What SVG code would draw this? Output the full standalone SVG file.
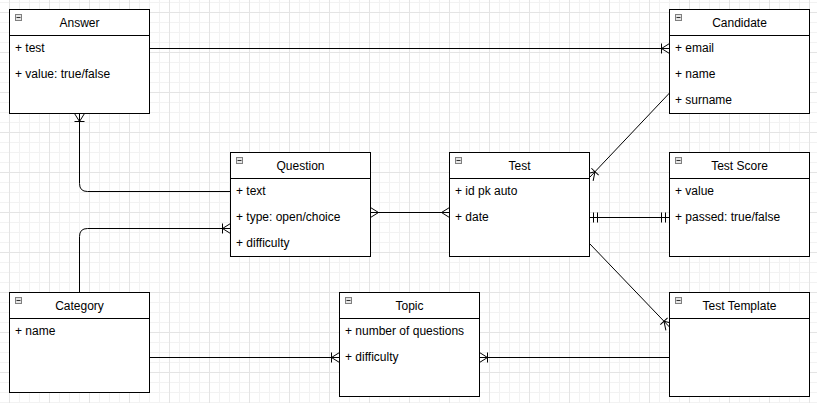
<svg xmlns="http://www.w3.org/2000/svg" width="817" height="403" viewBox="0 0 817 403">
<style>
.box{fill:#fff;stroke:#000;stroke-width:1}
.hdr{fill:none;stroke:#000;stroke-width:1}
.ico{fill:#e6e6e6;stroke:#808080;stroke-width:1}
.icm{stroke:#333;stroke-width:1}
.t{font-family:"Liberation Sans",Arial,sans-serif;font-size:12px;fill:#000}
.ttl{text-anchor:middle}
.c{fill:none;stroke:#000;stroke-width:1}
.m{fill:none;stroke:#000;stroke-width:1}
</style>
<defs>
<pattern id="grid" patternUnits="userSpaceOnUse" x="9" y="12" width="40" height="40">
<rect width="40" height="40" fill="#fff"/>
<path d="M10.5 0V40M20.5 0V40M30.5 0V40M0 10.5H40M0 20.5H40M0 30.5H40" stroke="#f2f2f2" stroke-width="1" fill="none"/>
<path d="M0.5 0V40M0 0.5H40" stroke="#e4e4e4" stroke-width="1" fill="none"/>
</pattern>
<marker id="one2many" markerUnits="userSpaceOnUse" orient="auto-start-reverse" refX="0" refY="0" markerWidth="20" markerHeight="20" viewBox="-10 -10 20 20" overflow="visible">
<path class="m" d="M-8 0L0 -5M-8 0L0 5M-8 -5L-8 5"/>
</marker>
<marker id="many" markerUnits="userSpaceOnUse" orient="auto-start-reverse" refX="0" refY="0" markerWidth="20" markerHeight="20" viewBox="-10 -10 20 20" overflow="visible">
<path class="m" d="M-8 0L0 -5M-8 0L0 5"/>
</marker>
<marker id="mandOne" markerUnits="userSpaceOnUse" orient="auto-start-reverse" refX="0" refY="0" markerWidth="20" markerHeight="20" viewBox="-10 -10 20 20" overflow="visible">
<path class="m" d="M-4 -5L-4 5M-8 -5L-8 5"/>
</marker>
</defs>
<rect width="817" height="403" fill="url(#grid)"/>

<g id="connectors">
<path class="c" d="M149.5 48.5H669.5" marker-end="url(#one2many)"/>
<path class="c" d="M230.5 191.5H87.5Q79.5 191.5 79.5 183.5V113.5" marker-end="url(#one2many)"/>
<path class="c" d="M370.5 212.5H449.5" marker-start="url(#many)" marker-end="url(#many)"/>
<path class="c" d="M79.5 292.5V236.5Q79.5 228.5 87.5 228.5H230.5" marker-end="url(#one2many)"/>
<path class="c" d="M669.5 93L589.5 177.5" marker-end="url(#one2many)"/>
<path class="c" d="M589.5 217.5H669.5" marker-start="url(#mandOne)" marker-end="url(#mandOne)"/>
<path class="c" d="M589.5 243.5L669.5 327" marker-end="url(#one2many)"/>
<path class="c" d="M149.5 357.5H339.5" marker-end="url(#one2many)"/>
<path class="c" d="M669.5 357.5H479.5" marker-end="url(#one2many)"/>
</g>

<g id="answer">
<rect class="box" x="9.5" y="9.5" width="140" height="104"/>
<path class="hdr" d="M9.5 35.5H149.5"/>
<rect class="ico" x="15.5" y="14.5" width="6" height="6"/><path class="icm" d="M16.5 17.5H20.5"/>
<text class="t ttl" x="79.5" y="27">Answer</text>
<text class="t" x="15" y="52">+ test</text>
<text class="t" x="15" y="78">+ value: true/false</text>
</g>

<g id="candidate">
<rect class="box" x="669.5" y="9.5" width="140" height="104"/>
<path class="hdr" d="M669.5 35.5H809.5"/>
<rect class="ico" x="675.5" y="14.5" width="6" height="6"/><path class="icm" d="M676.5 17.5H680.5"/>
<text class="t ttl" x="739.5" y="27">Candidate</text>
<text class="t" x="675" y="52">+ email</text>
<text class="t" x="675" y="78">+ name</text>
<text class="t" x="675" y="104">+ surname</text>
</g>

<g id="question">
<rect class="box" x="230.5" y="152.5" width="140" height="104"/>
<path class="hdr" d="M230.5 178.5H370.5"/>
<rect class="ico" x="236.5" y="157.5" width="6" height="6"/><path class="icm" d="M237.5 160.5H241.5"/>
<text class="t ttl" x="300.5" y="170">Question</text>
<text class="t" x="236" y="195">+ text</text>
<text class="t" x="236" y="221">+ type: open/choice</text>
<text class="t" x="236" y="247">+ difficulty</text>
</g>

<g id="test">
<rect class="box" x="449.5" y="152.5" width="140" height="104"/>
<path class="hdr" d="M449.5 178.5H589.5"/>
<rect class="ico" x="455.5" y="157.5" width="6" height="6"/><path class="icm" d="M456.5 160.5H460.5"/>
<text class="t ttl" x="519.5" y="170">Test</text>
<text class="t" x="455" y="195">+ id pk auto</text>
<text class="t" x="455" y="221">+ date</text>
</g>

<g id="test-score">
<rect class="box" x="669.5" y="152.5" width="140" height="104"/>
<path class="hdr" d="M669.5 178.5H809.5"/>
<rect class="ico" x="675.5" y="157.5" width="6" height="6"/><path class="icm" d="M676.5 160.5H680.5"/>
<text class="t ttl" x="739.5" y="170">Test Score</text>
<text class="t" x="675" y="195">+ value</text>
<text class="t" x="675" y="221">+ passed: true/false</text>
</g>

<g id="category">
<rect class="box" x="9.5" y="292.5" width="140" height="100"/>
<path class="hdr" d="M9.5 318.5H149.5"/>
<rect class="ico" x="15.5" y="297.5" width="6" height="6"/><path class="icm" d="M16.5 300.5H20.5"/>
<text class="t ttl" x="79.5" y="310">Category</text>
<text class="t" x="15" y="335">+ name</text>
</g>

<g id="topic">
<rect class="box" x="339.5" y="292.5" width="140" height="104"/>
<path class="hdr" d="M339.5 318.5H479.5"/>
<rect class="ico" x="345.5" y="297.5" width="6" height="6"/><path class="icm" d="M346.5 300.5H350.5"/>
<text class="t ttl" x="409.5" y="310">Topic</text>
<text class="t" x="345" y="335">+ number of questions</text>
<text class="t" x="345" y="361">+ difficulty</text>
</g>

<g id="test-template">
<rect class="box" x="669.5" y="292.5" width="140" height="104"/>
<path class="hdr" d="M669.5 318.5H809.5"/>
<rect class="ico" x="675.5" y="297.5" width="6" height="6"/><path class="icm" d="M676.5 300.5H680.5"/>
<text class="t ttl" x="739.5" y="310">Test Template</text>
</g>
</svg>
